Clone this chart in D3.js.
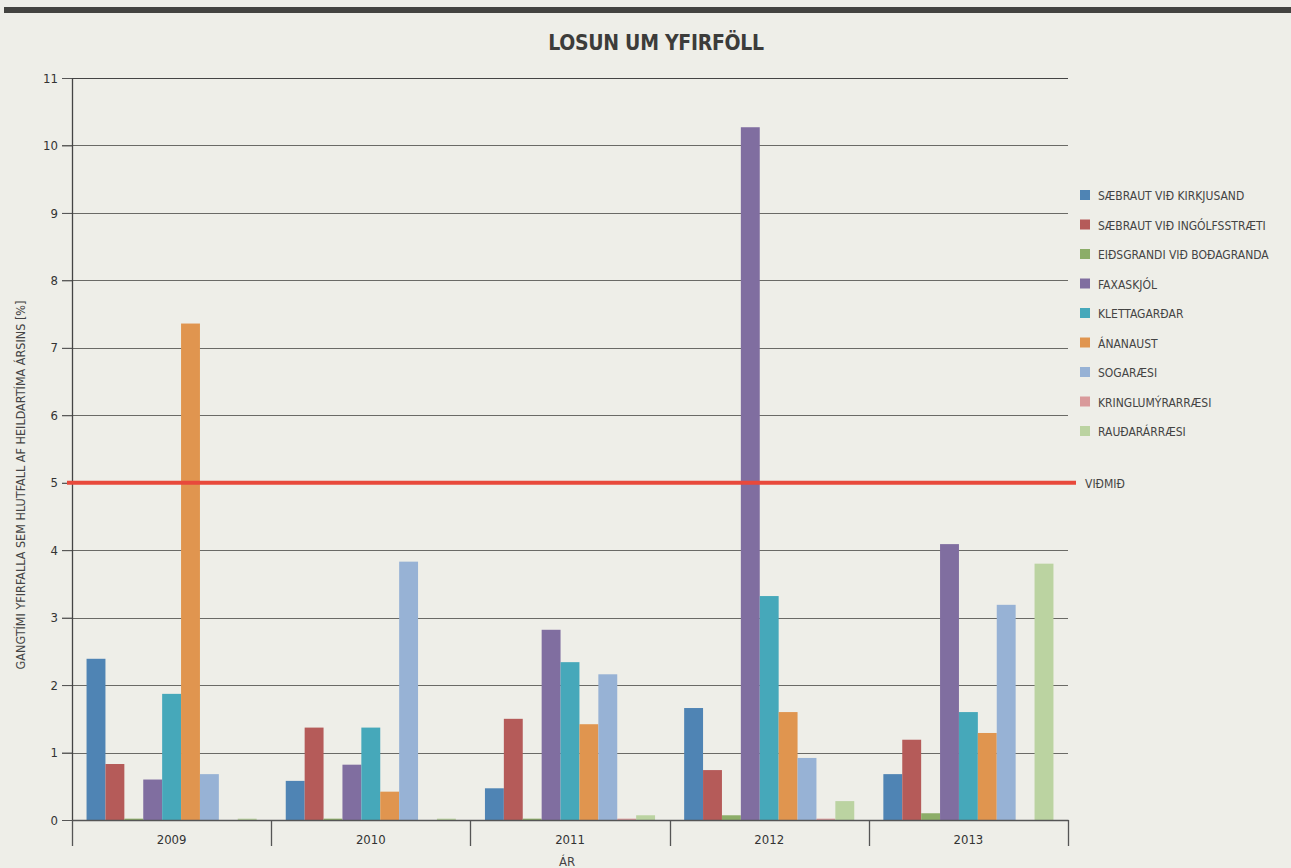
<!DOCTYPE html>
<html><head><meta charset="utf-8">
<script src="https://cdn.jsdelivr.net/npm/d3@7"></script>
<style>
html,body{margin:0;padding:0;background:#eeeee8;}
svg{display:block;}
text{font-family:"DejaVu Sans Condensed","DejaVu Sans",sans-serif;}
</style></head>
<body>
<svg id="c" width="1291" height="868"></svg>
<script>
const years = ["2009","2010","2011","2012","2013"];
const seriesNames = ["SÆBRAUT VIÐ KIRKJUSAND","SÆBRAUT VIÐ INGÓLFSSTRÆTI","EIÐSGRANDI VIÐ BOÐAGRANDA","FAXASKJÓL","KLETTAGARÐAR","ÁNANAUST","SOGARÆSI","KRINGLUMÝRARRÆSI","RAUÐARÁRRÆSI"];
const seriesColors = ["#4f84b4","#b55b59","#8cad68","#806ea0","#46a8ba","#e0954f","#97b2d5","#d99a9b","#bbd3a1"];
// values per series, in order of years
const kirkjusand   = [2.39, 0.58, 0.47, 1.66, 0.68];
const ingolfs      = [0.83, 1.37, 1.50, 0.74, 1.19];
const eidsgrandi   = [0.02, 0.02, 0.02, 0.07, 0.10];
const faxaskjol    = [0.60, 0.82, 2.82, 10.27, 4.09];
const klettagardar = [1.87, 1.37, 2.34, 3.32, 1.60];
const ananaust     = [7.36, 0.42, 1.42, 1.60, 1.29];
const sogaraesi    = [0.68, 3.83, 2.16, 0.92, 3.19];
const kringlumyri  = [0.00, 0.00, 0.02, 0.02, 0.00];
const raudara      = [0.02, 0.02, 0.07, 0.28, 3.80];
const seriesValues = [kirkjusand, ingolfs, eidsgrandi, faxaskjol, klettagardar, ananaust, sogaraesi, kringlumyri, raudara];
const yTicks = [0,1,2,3,4,5,6,7,8,9,10,11];
const threshold = 5;
const thresholdLabel = "VIÐMIÐ";
const title = "LOSUN UM YFIRFÖLL";
const yLabel = "GANGTÍMI YFIRFALLA SEM HLUTFALL AF HEILDARTÍMA ÁRSINS [%]";
const xLabel = "ÁR";

const svg = d3.select("#c");
const L = 72, R = 1068, T = 78, B = 820;

// top dark bar
svg.append("rect").attr("x",4).attr("y",7).attr("width",1287).attr("height",6).attr("fill","#434340");

svg.append("text").attr("x",656).attr("y",50).attr("text-anchor","middle")
  .attr("font-size",21).attr("font-weight","bold").attr("fill","#3c3c3a").attr("letter-spacing","-0.3")
  .text(title);

const x0 = d3.scaleBand().domain(years).range([L,R]).paddingInner(0).paddingOuter(0);
const x1 = d3.scaleBand().domain(d3.range(seriesNames.length)).range([0,x0.bandwidth()]).paddingInner(0).paddingOuter(0.77);
const y = d3.scaleLinear().domain([0,11]).range([B,T]);

// gridlines
const g = svg.append("g");
g.selectAll("line.grid").data(yTicks.filter(d=>d>0)).join("line")
  .attr("x1",62).attr("x2",R).attr("y1",d=>Math.round(y(d))+0.5).attr("y2",d=>Math.round(y(d))+0.5)
  .attr("stroke",d=>d===11?"#444":"#6a6a66").attr("stroke-width",1.2);

// y axis
const yAxis = d3.axisLeft(y).tickValues(yTicks).tickSize(10).tickPadding(6).tickFormat(d3.format("d"));
const ya = svg.append("g").attr("transform",`translate(${L},0)`).call(yAxis);
ya.select(".domain").remove();
ya.selectAll(".tick line").attr("stroke","#555");
ya.selectAll(".tick text").attr("font-size",13).attr("fill","#333").attr("x",-14);
svg.append("line").attr("x1",L+0.5).attr("x2",L+0.5).attr("y1",T).attr("y2",B).attr("stroke","#444").attr("stroke-width",1.3);

// bars
const groups = svg.append("g").selectAll("g").data(years).join("g")
  .attr("transform",d=>`translate(${x0(d)},0)`);
groups.selectAll("rect").data((yr,i)=>seriesValues.map((vals,s)=>({s,v:vals[i]}))).join("rect")
  .attr("x",d=>x1(d.s)).attr("width",x1.bandwidth())
  .attr("y",d=>y(d.v)).attr("height",d=>B-y(d.v))
  .attr("fill",d=>seriesColors[d.s]);

// x axis
const xa = svg.append("g").attr("transform",`translate(0,${B})`).call(d3.axisBottom(x0).tickSize(0).tickPadding(15));
xa.select(".domain").attr("stroke","#555").attr("stroke-width",1.3);
xa.selectAll(".tick text").attr("font-size",13).attr("fill","#333");
svg.append("g").selectAll("line").data(years.map(d=>x0(d)).concat([R])).join("line")
  .attr("x1",d=>Math.round(d)+0.5).attr("x2",d=>Math.round(d)+0.5).attr("y1",B).attr("y2",846)
  .attr("stroke","#555").attr("stroke-width",1.3);

// threshold line
svg.append("line").attr("x1",67).attr("x2",1076).attr("y1",y(threshold)).attr("y2",y(threshold))
  .attr("stroke","#e8493b").attr("stroke-width",4);
svg.append("text").attr("x",1085).attr("y",y(threshold)+5).attr("font-size",12).attr("fill","#444").text(thresholdLabel);

// axis titles
svg.append("text").attr("transform",`translate(25,${485}) rotate(-90)`).attr("text-anchor","middle")
  .attr("font-size",12.5).attr("fill","#444").text(yLabel);
svg.append("text").attr("x",567).attr("y",866).attr("text-anchor","middle").attr("font-size",13).attr("fill","#444").text(xLabel);

// legend
const lg = svg.append("g").selectAll("g").data(seriesNames).join("g")
  .attr("transform",(d,i)=>`translate(1080,${195 + i*29.5})`);
lg.append("rect").attr("x",0).attr("y",-5).attr("width",10).attr("height",10).attr("fill",(d,i)=>seriesColors[i]);
lg.append("text").attr("x",18).attr("y",5).attr("font-size",12).attr("fill","#444").text(d=>d);
</script>
</body></html>
